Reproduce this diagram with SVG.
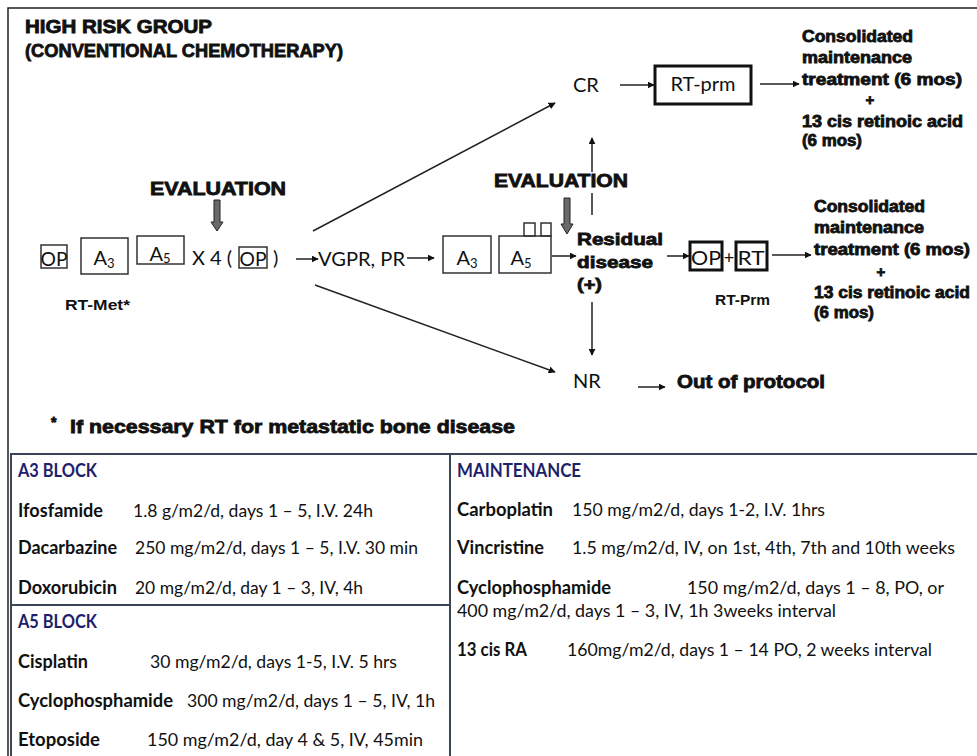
<svg xmlns="http://www.w3.org/2000/svg" width="977" height="756" viewBox="0 0 977 756">
<style>
.hv{font-family:"Liberation Sans",Arial,sans-serif;font-weight:bold;fill:#111;stroke:#111;stroke-width:0.8}
.hs{font-family:"Liberation Sans",Arial,sans-serif;font-weight:bold;fill:#111}
.sf{font-family:Lato,"Liberation Sans",sans-serif;fill:#111}
.tb{font-family:Lato,"Liberation Sans",sans-serif;font-size:18px;fill:#111}
.tbb{font-family:Lato,"Liberation Sans",sans-serif;font-size:18px;font-weight:bold;fill:#111}
.th{font-family:Lato,"Liberation Sans",sans-serif;font-size:18px;font-weight:bold;fill:#1f1f6b}
.bx{fill:none;stroke:#333;stroke-width:1.5}
.bk{fill:none;stroke:#111;stroke-width:3}
.ln{fill:none;stroke:#222;stroke-width:1.5}
.grid{stroke:#3a4656;stroke-width:2;fill:none}
.ev{fill:#6a6a6a;stroke:#222;stroke-width:1}
</style>
<defs>
<marker id="ah" viewBox="0 0 10 10" refX="9" refY="5" markerWidth="7" markerHeight="7" markerUnits="userSpaceOnUse" orient="auto">
<path d="M0,0 L10,5 L0,10 z" fill="#111"/>
</marker>
</defs>
<rect x="0" y="0" width="977" height="756" fill="#fff"/>
<g id="frame">
<path d="M8,756 V8 H977" class="ln" stroke="#333"/>
</g>
<g id="title">
<text class="hv" x="25" y="33" font-size="18" textLength="187" lengthAdjust="spacingAndGlyphs">HIGH RISK GROUP</text>
<text class="hv" x="25" y="57" font-size="18" textLength="318" lengthAdjust="spacingAndGlyphs">(CONVENTIONAL CHEMOTHERAPY)</text>
</g>
<g id="eval1">
<text class="hv" x="150" y="195" font-size="18" textLength="136" lengthAdjust="spacingAndGlyphs">EVALUATION</text>
<polygon class="ev" points="214,200 220,200 220,222 223,222 217,231 211,222 214,222"/>
</g>
<g id="eval2">
<text class="hv" x="494" y="187" font-size="18" textLength="134" lengthAdjust="spacingAndGlyphs">EVALUATION</text>
<polygon class="ev" points="564,198 570,198 570,224 573,224 567,234 561,224 564,224"/>
</g>
<g id="op1">
<rect class="bx" x="41" y="245" width="26" height="23"/>
<text class="sf" x="54" y="266" font-size="20" text-anchor="middle" textLength="27" lengthAdjust="spacingAndGlyphs">OP</text>
</g>
<g id="a3-1">
<rect class="bx" x="81" y="238" width="47" height="36"/>
<text class="sf" x="104" y="265" font-size="20" text-anchor="middle">A<tspan font-size="13" dy="3">3</tspan></text>
</g>
<g id="a5-1">
<rect class="bx" x="137" y="236" width="47" height="28"/>
<text class="sf" x="160" y="261" font-size="20" text-anchor="middle">A<tspan font-size="13" dy="2">5</tspan></text>
</g>
<g id="x4">
<text class="sf" x="192" y="265" font-size="20">X 4 (</text>
<rect class="bx" x="239" y="247" width="28" height="21"/>
<text class="sf" x="253" y="266" font-size="20" text-anchor="middle" textLength="27" lengthAdjust="spacingAndGlyphs">OP</text>
<text class="sf" x="273" y="265" font-size="20">)</text>
</g>
<g id="rtmet">
<text class="hs" x="65" y="310" font-size="14" textLength="65" lengthAdjust="spacingAndGlyphs">RT-Met*</text>
</g>
<g id="vgpr">
<text class="sf" x="318" y="266" font-size="20" textLength="87" lengthAdjust="spacingAndGlyphs">VGPR, PR</text>
</g>
<g id="a3-2">
<rect class="bx" x="443" y="236" width="48" height="37"/>
<text class="sf" x="467" y="265" font-size="20" text-anchor="middle">A<tspan font-size="13" dy="3">3</tspan></text>
</g>
<g id="a5-2">
<rect class="bx" x="499" y="236" width="52" height="37"/>
<rect class="bx" x="524" y="223" width="11" height="13"/>
<rect class="bx" x="541" y="223" width="10" height="13"/>
<text class="sf" x="521" y="265" font-size="20" text-anchor="middle">A<tspan font-size="13" dy="3">5</tspan></text>
</g>
<g id="residual">
<text class="hv" x="577" y="245" font-size="17" textLength="86" lengthAdjust="spacingAndGlyphs">Residual</text>
<text class="hv" x="577" y="268" font-size="17" textLength="76" lengthAdjust="spacingAndGlyphs">disease</text>
<text class="hv" x="577" y="290" font-size="17" textLength="25" lengthAdjust="spacingAndGlyphs">(+)</text>
</g>
<g id="cr">
<text class="sf" x="573" y="92" font-size="20">CR</text>
</g>
<g id="rtprm">
<rect class="bk" x="655" y="66" width="96" height="38"/>
<text class="sf" x="703" y="91" font-size="20" text-anchor="middle">RT-prm</text>
</g>
<g id="cons1">
<text class="hv" x="802" y="42" font-size="16" textLength="111" lengthAdjust="spacingAndGlyphs">Consolidated</text>
<text class="hv" x="802" y="63" font-size="16" textLength="110" lengthAdjust="spacingAndGlyphs">maintenance</text>
<text class="hv" x="802" y="85" font-size="16" textLength="160" lengthAdjust="spacingAndGlyphs">treatment (6 mos)</text>
<text class="hv" x="870" y="105" font-size="15" text-anchor="middle">+</text>
<text class="hv" x="802" y="127" font-size="16" textLength="161" lengthAdjust="spacingAndGlyphs">13 cis retinoic acid</text>
<text class="hv" x="802" y="146" font-size="16" textLength="60" lengthAdjust="spacingAndGlyphs">(6 mos)</text>
</g>
<g id="oprt">
<rect class="bk" x="690" y="242" width="32" height="28"/>
<text class="sf" x="706" y="265" font-size="20" text-anchor="middle" textLength="30" lengthAdjust="spacingAndGlyphs">OP</text>
<text class="sf" x="729" y="264" font-size="18" text-anchor="middle">+</text>
<rect class="bk" x="736" y="242" width="31" height="28"/>
<text class="sf" x="751" y="265" font-size="20" text-anchor="middle" textLength="27" lengthAdjust="spacingAndGlyphs">RT</text>
<text class="hs" x="715" y="305" font-size="14" textLength="55" lengthAdjust="spacingAndGlyphs">RT-Prm</text>
</g>
<g id="cons2">
<text class="hv" x="814" y="212" font-size="16" textLength="111" lengthAdjust="spacingAndGlyphs">Consolidated</text>
<text class="hv" x="814" y="233" font-size="16" textLength="110" lengthAdjust="spacingAndGlyphs">maintenance</text>
<text class="hv" x="814" y="255" font-size="16" textLength="156" lengthAdjust="spacingAndGlyphs">treatment (6 mos)</text>
<text class="hv" x="881" y="277" font-size="15" text-anchor="middle">+</text>
<text class="hv" x="814" y="298" font-size="16" textLength="156" lengthAdjust="spacingAndGlyphs">13 cis retinoic acid</text>
<text class="hv" x="814" y="318" font-size="16" textLength="60" lengthAdjust="spacingAndGlyphs">(6 mos)</text>
</g>
<g id="nr">
<text class="sf" x="573" y="388" font-size="20">NR</text>
</g>
<g id="out">
<text class="hv" x="677" y="388" font-size="18" textLength="148" lengthAdjust="spacingAndGlyphs">Out of protocol</text>
</g>
<g id="footnote">
<text class="hv" x="51" y="427" font-size="14">*</text>
<text class="hv" x="70" y="433" font-size="19" textLength="445" lengthAdjust="spacingAndGlyphs">If necessary RT for metastatic bone disease</text>
</g>
<g id="connectors" class="ln" marker-end="url(#ah)">
<line x1="296" y1="259" x2="318" y2="259"/>
<line x1="407" y1="258" x2="434" y2="258"/>
<line x1="552" y1="256" x2="576" y2="256"/>
<line x1="313" y1="231" x2="555" y2="103"/>
<line x1="315" y1="285" x2="555" y2="372"/>
<line x1="620" y1="85" x2="654" y2="85"/>
<line x1="760" y1="84" x2="799" y2="84"/>
<path d="M592,215 V193 M592,172 V138"/>
<line x1="667" y1="256" x2="689" y2="256"/>
<line x1="772" y1="255" x2="811" y2="255"/>
<line x1="592" y1="302" x2="592" y2="355"/>
<line x1="638" y1="387" x2="665" y2="387"/>
</g>
<g id="table">
<path class="grid" d="M11,756 V454 H977 M450,454 V756 M11,605 H450"/>
<text class="th" x="18" y="477" textLength="79" lengthAdjust="spacingAndGlyphs">A3 BLOCK</text>
<text class="tbb" x="18" y="517" textLength="85" lengthAdjust="spacingAndGlyphs">Ifosfamide</text>
<text class="tb" x="133" y="517" textLength="240" lengthAdjust="spacingAndGlyphs">1.8 g/m2/d, days 1 – 5, I.V. 24h</text>
<text class="tbb" x="18" y="554" textLength="99" lengthAdjust="spacingAndGlyphs">Dacarbazine</text>
<text class="tb" x="135" y="554" textLength="283" lengthAdjust="spacingAndGlyphs">250 mg/m2/d, days 1 – 5, I.V. 30 min</text>
<text class="tbb" x="18" y="594" textLength="99" lengthAdjust="spacingAndGlyphs">Doxorubicin</text>
<text class="tb" x="135" y="594" textLength="228" lengthAdjust="spacingAndGlyphs">20 mg/m2/d, day 1 – 3, IV, 4h</text>
<text class="th" x="18" y="628" textLength="79" lengthAdjust="spacingAndGlyphs">A5 BLOCK</text>
<text class="tbb" x="18" y="668" textLength="70" lengthAdjust="spacingAndGlyphs">Cisplatin</text>
<text class="tb" x="150" y="668" textLength="247" lengthAdjust="spacingAndGlyphs">30 mg/m2/d, days 1-5, I.V. 5 hrs</text>
<text class="tbb" x="18" y="707" textLength="155" lengthAdjust="spacingAndGlyphs">Cyclophosphamide</text>
<text class="tb" x="187" y="707" textLength="248" lengthAdjust="spacingAndGlyphs">300 mg/m2/d, days 1 – 5,  IV, 1h</text>
<text class="tbb" x="18" y="746" textLength="82" lengthAdjust="spacingAndGlyphs">Etoposide</text>
<text class="tb" x="147" y="746" textLength="276" lengthAdjust="spacingAndGlyphs">150 mg/m2/d, day 4 &amp; 5,  IV, 45min</text>
<text class="th" x="457" y="477" textLength="124" lengthAdjust="spacingAndGlyphs">MAINTENANCE</text>
<text class="tbb" x="457" y="516" textLength="96" lengthAdjust="spacingAndGlyphs">Carboplatin</text>
<text class="tb" x="572" y="516" textLength="253" lengthAdjust="spacingAndGlyphs">150 mg/m2/d, days 1-2, I.V. 1hrs</text>
<text class="tbb" x="457" y="554" textLength="87" lengthAdjust="spacingAndGlyphs">Vincristine</text>
<text class="tb" x="572" y="554" textLength="383" lengthAdjust="spacingAndGlyphs">1.5 mg/m2/d, IV, on 1st, 4th, 7th and 10th weeks</text>
<text class="tbb" x="457" y="594" textLength="154" lengthAdjust="spacingAndGlyphs">Cyclophosphamide</text>
<text class="tb" x="687" y="594" textLength="257" lengthAdjust="spacingAndGlyphs">150 mg/m2/d, days 1 – 8,  PO, or</text>
<text class="tb" x="457" y="617" textLength="379" lengthAdjust="spacingAndGlyphs">400 mg/m2/d, days 1 – 3,  IV, 1h  3weeks interval</text>
<text class="tbb" x="457" y="656" textLength="70" lengthAdjust="spacingAndGlyphs">13 cis RA</text>
<text class="tb" x="567" y="656" textLength="365" lengthAdjust="spacingAndGlyphs">160mg/m2/d, days 1 – 14 PO, 2 weeks interval</text>
</g>
</svg>
